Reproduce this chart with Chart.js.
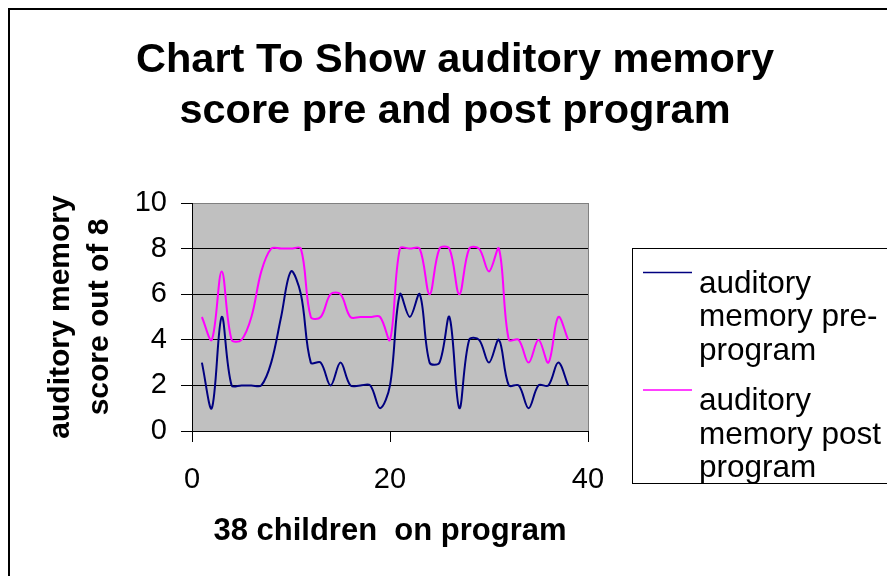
<!DOCTYPE html>
<html>
<head>
<meta charset="utf-8">
<title>Chart To Show auditory memory score pre and post program</title>
<script src="https://cdn.jsdelivr.net/npm/chart.js@4.4.1/dist/chart.umd.min.js"></script>
<style>
  html, body { margin: 0; padding: 0; background: #fff; }
  canvas { display: block; }
</style>
</head>
<body>
<canvas id="chart" width="887" height="576"></canvas>
<script>
// values (one point per child)
const children = [1, 2, 3, 4, 5, 6, 7, 8, 9, 10, 11, 12, 13, 14, 15, 16, 17, 18, 19,
  20, 21, 22, 23, 24, 25, 26, 27, 28, 29, 30, 31, 32, 33, 34, 35, 36, 37, 38];
const preProgram = [3, 1, 5, 2, 2, 2, 2, 3, 5, 7, 6, 3, 3, 2, 3, 2, 2, 2, 1,
  2, 6, 5, 6, 3, 3, 5, 1, 4, 4, 3, 4, 2, 2, 1, 2, 2, 3, 2];
const postProgram = [5, 4, 7, 4, 4, 5, 7, 8, 8, 8, 8, 5, 5, 6, 6, 5, 5, 5, 5,
  4, 8, 8, 8, 6, 8, 8, 6, 8, 8, 7, 8, 4, 4, 3, 4, 3, 5, 4];

const xTickValues = [0, 20, 40];
const yTickValues = [0, 2, 4, 6, 8, 10];

const titleLines = ['Chart To Show auditory memory', 'score pre and post program'];
const xTitle = '38 children  on program';
const yTitle = ['auditory memory', 'score out of 8'];
const seriesLabels = ['auditory memory pre-program', 'auditory memory post program'];
const legendLines = [['auditory', 'memory pre-', 'program'], ['auditory', 'memory post', 'program']];
const seriesColors = ['#000080', '#ff00ff'];

const FONT = "'Liberation Sans', Arial, sans-serif";
Chart.defaults.font.family = FONT;
Chart.defaults.color = '#000';

function toPoints(values) {
  return children.map((c, i) => ({ x: c, y: values[i] }));
}

// grey plot area, frame, title and legend box like the Excel original
const excelLook = {
  id: 'excelLook',
  beforeDraw(chart) {
    const { ctx, chartArea: a } = chart;
    ctx.save();
    ctx.fillStyle = '#fff';
    ctx.fillRect(0, 0, chart.width, chart.height);
    ctx.fillStyle = '#c0c0c0';
    ctx.fillRect(a.left, a.top, a.right - a.left, a.bottom - a.top);
    ctx.restore();
  },
  beforeDatasetsDraw(chart) {
    const { ctx, chartArea: a } = chart;
    const x = Math.round(a.right) + 0.5;
    ctx.save();
    ctx.strokeStyle = '#808080';
    ctx.lineWidth = 1;
    ctx.beginPath();
    ctx.moveTo(x, a.top);
    ctx.lineTo(x, a.bottom);
    ctx.stroke();
    ctx.restore();
  },
  afterDraw(chart) {
    const { ctx } = chart;
    ctx.save();
    // outer chart frame (runs off the right and bottom)
    ctx.strokeStyle = '#000';
    ctx.lineWidth = 2;
    ctx.strokeRect(9, 9, 1000, 1000);

    // title
    ctx.fillStyle = '#000';
    ctx.font = 'bold 41.5px ' + FONT;
    ctx.textAlign = 'center';
    ctx.textBaseline = 'alphabetic';
    titleLines.forEach((t, i) => ctx.fillText(t, 455, 72 + i * 51));

    // legend
    ctx.lineWidth = 1;
    ctx.strokeRect(632.5, 248.5, 400, 235);
    ctx.font = '31.5px ' + FONT;
    ctx.textAlign = 'left';
    chart.data.datasets.forEach((ds, i) => {
      const y = 272.5 + i * 117.5;
      ctx.strokeStyle = ds.borderColor;
      ctx.lineWidth = 1.5;
      ctx.beginPath();
      ctx.moveTo(643, y);
      ctx.lineTo(692, y);
      ctx.stroke();
      legendLines[i].forEach((line, j) => ctx.fillText(line, 699, y + 20 + j * 33.5));
    });
    ctx.restore();
  }
};

new Chart(document.getElementById('chart'), {
  type: 'line',
  data: {
    datasets: [
      { label: seriesLabels[0], data: toPoints(preProgram), borderColor: seriesColors[0],
        borderWidth: 2, pointRadius: 0, tension: 0.35, fill: false },
      { label: seriesLabels[1], data: toPoints(postProgram), borderColor: seriesColors[1],
        borderWidth: 2, pointRadius: 0, tension: 0.35, fill: false }
    ]
  },
  options: {
    responsive: false,
    animation: false,
    devicePixelRatio: 1,
    layout: { padding: { left: 0, top: 203, right: 299, bottom: 0 } },
    plugins: {
      legend: { display: false },
      title: { display: false },
      tooltip: { enabled: false }
    },
    scales: {
      x: {
        type: 'linear',
        min: 0,
        max: 40,
        afterBuildTicks: s => { s.ticks = xTickValues.map(v => ({ value: v })); },
        afterFit: s => { s.height = 145; },
        ticks: { font: { size: 29 }, color: '#000', padding: 21, maxRotation: 0 },
        grid: { drawOnChartArea: false, tickLength: 11, tickColor: '#000' },
        border: { color: '#000', width: 1 },
        title: {
          display: true, text: xTitle, color: '#000',
          font: { size: 31, weight: 'bold', lineHeight: 1.2 },
          padding: { top: 0, bottom: 26 }
        }
      },
      y: {
        min: 0,
        max: 10,
        afterBuildTicks: s => { s.ticks = yTickValues.map(v => ({ value: v })); },
        afterFit: s => { s.width = 192; },
        ticks: { font: { size: 29 }, color: '#000', padding: 14 },
        grid: {
          color: c => (c.tick && c.tick.value === 10 ? '#808080' : '#000'),
          tickColor: '#000',
          tickLength: 11
        },
        border: { color: '#000', width: 1 },
        title: {
          display: true, text: yTitle, color: '#000',
          font: { size: 30, weight: 'bold', lineHeight: 1.28 },
          padding: { top: 42, bottom: 0 }
        }
      }
    }
  },
  plugins: [excelLook]
});
</script>
</body>
</html>
